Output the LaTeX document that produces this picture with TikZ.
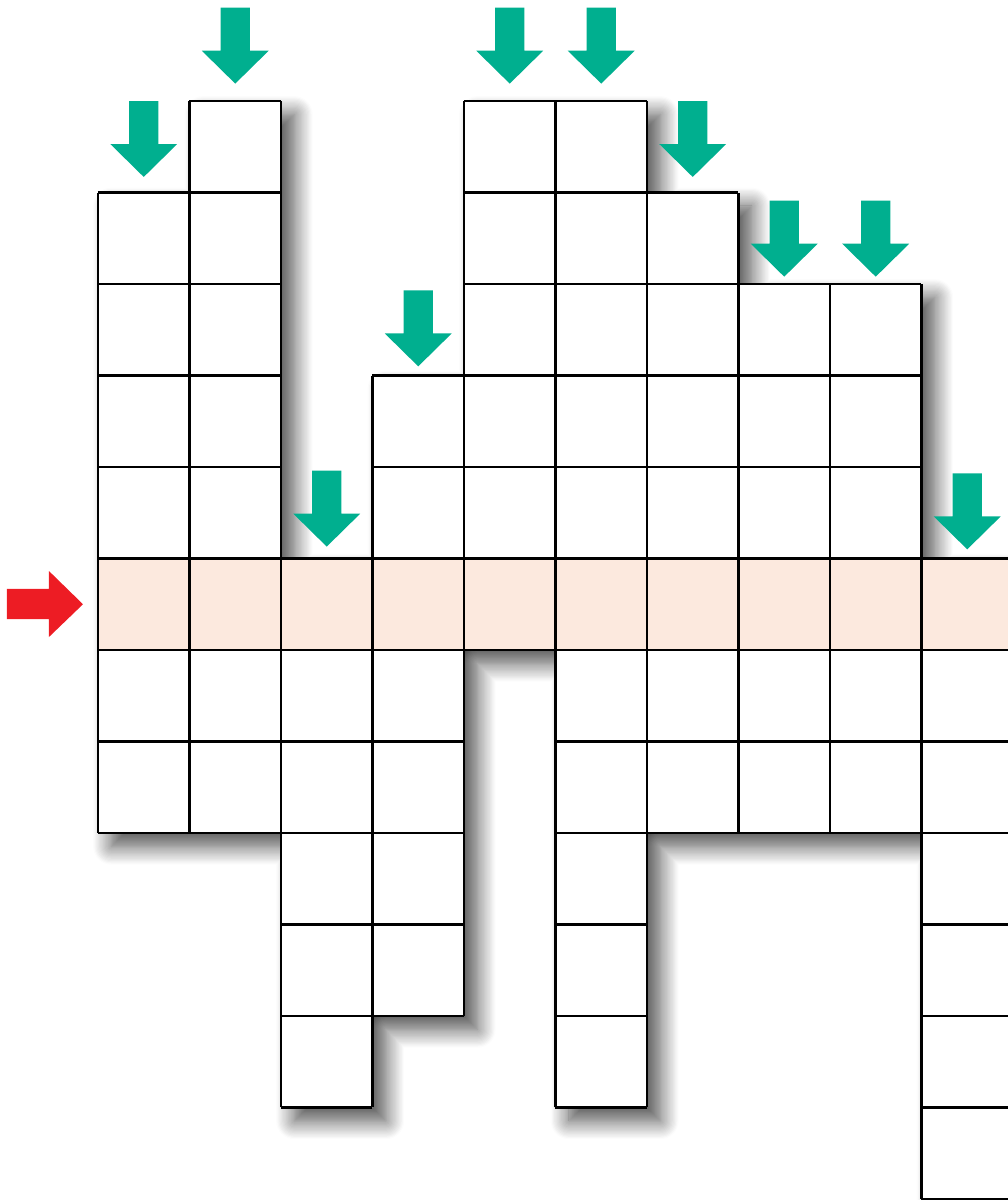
\documentclass[tikz,border=0pt]{standalone}
\usepackage{tikz}
\usetikzlibrary{shadows.blur}
\usepackage{xcolor}
\definecolor{fgreen}{HTML}{00AF8F}
\definecolor{fred}{HTML}{ED1C24}
\definecolor{fpeach}{HTML}{FCE9DE}

\begin{document}
\begin{tikzpicture}[x=1.5cm,y=1.5cm,line width=1.2pt]
\useasboundingbox (-1.071,-0.011) rectangle (9.945,13.104);
% outline of all columns together, carrying the shadow
\path[fill=white,blur shadow={shadow xshift=0.22cm,shadow yshift=-0.22cm,shadow blur radius=0.3cm,shadow blur steps=16,shadow opacity=70}]
  (0,4) -- (0,11) -- (1,11) -- (1,12) -- (2,12) -- (2,7) -- (3,7) -- (3,9) -- (4,9) -- (4,12)
  -- (6,12) -- (6,11) -- (7,11) -- (7,10) -- (9,10) -- (9,7) -- (10,7) -- (10,0) -- (9,0)
  -- (9,4) -- (6,4) -- (6,1) -- (5,1) -- (5,6) -- (4,6) -- (4,2) -- (3,2) -- (3,1) -- (2,1)
  -- (2,4) -- cycle;
% the marked row
\fill[fpeach] (0,6) rectangle (10,7);
% columns: x / bottom / top
\foreach \c/\b/\t in {0/4/11,1/4/12,2/1/7,3/2/9,4/6/12,5/1/12,6/4/11,7/4/10,8/4/10,9/0/7}
  \draw[step=1.5cm] (\c,\b) grid (\c+1,\t);
% green arrows over each column top: x / height of the tip
\foreach \c/\y in {0/11.17,1/12.19,2/7.13,3/9.10,4/12.19,5/12.19,6/11.17,7/10.08,8/10.08,9/7.10}
  \fill[fgreen] (\c+0.34,\y+0.83) -- (\c+0.66,\y+0.83) -- (\c+0.66,\y+0.36) -- (\c+0.866,\y+0.36)
    -- (\c+0.5,\y) -- (\c+0.134,\y+0.36) -- (\c+0.34,\y+0.36) -- cycle;
% red arrow at the marked row
\fill[fred] (-0.995,6.338) -- (-0.536,6.338) -- (-0.536,6.142) -- (-0.164,6.5)
  -- (-0.536,6.863) -- (-0.536,6.667) -- (-0.995,6.667) -- cycle;
\end{tikzpicture}
\end{document}
